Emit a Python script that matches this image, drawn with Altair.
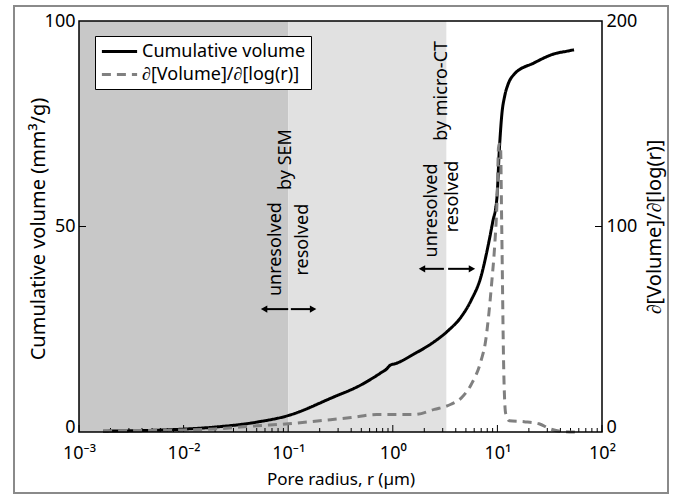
import altair as alt
import pandas as pd

# ---------------- data ----------------
series_names = ["Cumulative volume", "∂[Volume]/∂[log(r)]"]

cum_r = [0.0017, 0.005, 0.01, 0.02, 0.05, 0.1, 0.26, 0.5, 0.77, 0.87, 0.95, 1.05,
         1.6, 2.5, 3.36, 4.5, 5.6, 7.0, 8.1, 9.0, 9.9, 10.4, 11.0, 11.8, 12.6, 14.4,
         22.4, 34.8, 47.3, 54.0]
cum_v = [0.2, 0.4, 0.7, 1.2, 2.4, 4.0, 8.3, 11.5, 14.4, 15.3, 16.3, 16.6,
         19.0, 22.0, 24.6, 28.0, 32.0, 38.0, 45.0, 51.0, 57.0, 68.0, 77.0, 82.0, 84.5,
         87.0, 89.8, 92.0, 92.7, 93.0]

der_r = [0.0017, 0.005, 0.01, 0.02, 0.05, 0.1, 0.2, 0.4, 0.7, 1.0, 1.6, 2.5, 3.6,
         4.5, 5.6, 7.0, 7.7, 8.3, 8.8, 9.4, 9.9, 10.3, 10.7, 11.0, 11.5, 12.0, 13.0,
         18.0, 25.0, 32.0, 40.0, 55.0]
der_v = [0.5, 0.8, 1.0, 1.5, 3.0, 4.0, 5.5, 7.0, 8.5, 8.5, 8.5, 11.0, 13.5,
         16.5, 23.0, 35.0, 44.0, 58.0, 72.0, 90.0, 111.0, 140.0, 140.0, 100.0, 30.0,
         9.0, 5.5, 5.0, 4.0, 1.5, 0.3, 0.0]

region_from = [0.001, 0.1]
region_to = [0.1, 3.25]
region_fill = ["#c8c8c8", "#e1e1e1"]

ann_text = ["unresolved", "resolved", "by SEM", "unresolved", "resolved", "by micro-CT"]
ann_r = [0.0765, 0.1385, 0.0953, 2.37, 3.76, 2.95]
ann_v = [44.5, 46.8, 66.3, 53.9, 57.3, 83.0]

arrow_from = [0.1, 0.106, 3.08, 3.38]
arrow_to = [0.0588, 0.173, 1.90, 5.71]
arrow_v = [29.9, 29.9, 39.7, 39.7]
arrow_dir = ["left", "right", "left", "right"]

x_major = [0.001, 0.01, 0.1, 1, 10, 100]
x_minor = [m * d for d in [0.001, 0.01, 0.1, 1, 10] for m in range(2, 10)]

# ---------------- styling ----------------
FONT = "Noto Sans"
FS = 18
W, H = 523, 411

xscale = alt.Scale(type="log", domain=[1e-3, 1e2], nice=False)
x_axis = alt.Axis(
    values=x_major,
    labelExpr=("datum.value < 0.005 ? '10⁻³' : datum.value < 0.05 ? '10⁻²' : "
               "datum.value < 0.5 ? '10⁻¹' : datum.value < 5 ? '10⁰' : "
               "datum.value < 50 ? '10¹' : '10²'"),
    title="Pore radius, r (µm)", titleFontSize=17,
    titleX=W / 2, titleY=47, titleAlign="center", titleBaseline="middle",
    labelPadding=12, labelFlush=False,
)
y_label_base = {"expr": "datum.value == 0 ? 'alphabetic' : 'middle'"}
yl_scale = alt.Scale(domain=[0, 100], nice=False)
yr_scale = alt.Scale(domain=[0, 200], nice=False)
yl_axis = alt.Axis(values=[0, 50, 100], title="Cumulative volume (mm³/g)",
                   titleFontSize=20, labelBaseline=y_label_base,
                   titleAngle=270, titleX=-41, titleY=H / 2 + 2, titleAlign="center",
                   titleBaseline="middle", labelPadding=4)
yr_axis = alt.Axis(values=[0, 100, 200], orient="right",
                   title="∂[Volume]/∂[log(r)]", titleFontSize=20,
                   labelBaseline=y_label_base, titleAngle=270, titleX=52,
                   titleY=H / 2, titleAlign="center", titleBaseline="middle",
                   labelPadding=4)

color_scale = alt.Scale(domain=series_names, range=["black", "#808080"])
dash_scale = alt.Scale(domain=series_names, range=[[1, 0], [9, 6]])
legend = alt.Legend(title=None, orient="none", legendX=16, legendY=15,
                    symbolType="M-2,0L2,0", symbolSize=310, symbolStrokeWidth=3,
                    symbolOffset=9, labelOffset=12,
                    labelFont=FONT, labelFontSize=FS, labelColor="black",
                    labelLimit=400, strokeColor="black", fillColor="white",
                    padding=5, rowPadding=3)

# ---------------- data frames ----------------
cum_df = pd.DataFrame({"r": cum_r, "v": cum_v, "series": series_names[0]})
der_df = pd.DataFrame({"r": der_r, "v": der_v, "series": series_names[1]})
reg_df = pd.DataFrame({"r0": region_from, "r1": region_to, "fill": region_fill})
ann_df = pd.DataFrame({"r": ann_r, "v": ann_v, "t": ann_text})
arr_df = pd.DataFrame({"r0": arrow_from, "r1": arrow_to, "v": arrow_v, "dir": arrow_dir})
maj_df = pd.DataFrame({"r": x_major})
min_df = pd.DataFrame({"r": x_minor})
one_df = pd.DataFrame({"a": [0]})

# ---------------- left group ----------------
regions = alt.Chart(reg_df).mark_rect().encode(
    x=alt.X("r0:Q", scale=xscale, axis=x_axis),
    x2="r1:Q",
    y=alt.value(0), y2=alt.value(H),
    fill=alt.Fill("fill:N", scale=None),
)

major_ticks = alt.Chart(maj_df).mark_rule(color="black", strokeWidth=1).encode(
    x=alt.X("r:Q", scale=xscale, axis=x_axis), y=alt.value(H), y2=alt.value(H - 7))
minor_ticks = alt.Chart(min_df).mark_rule(color="black", strokeWidth=1).encode(
    x=alt.X("r:Q", scale=xscale, axis=x_axis), y=alt.value(H), y2=alt.value(H - 4))

cum_line = alt.Chart(cum_df).mark_line(strokeWidth=3, interpolate="monotone").encode(
    x=alt.X("r:Q", scale=xscale, axis=x_axis),
    y=alt.Y("v:Q", scale=yl_scale, axis=yl_axis),
    color=alt.Color("series:N", scale=color_scale, legend=legend),
    strokeDash=alt.StrokeDash("series:N", scale=dash_scale, legend=legend),
)

texts = alt.Chart(ann_df).mark_text(angle=270, font=FONT, fontSize=FS, color="black",
                                    align="center", baseline="middle").encode(
    x=alt.X("r:Q", scale=xscale, axis=x_axis),
    y=alt.Y("v:Q", scale=yl_scale, axis=yl_axis),
    text="t:N",
)

arrow_lines = alt.Chart(arr_df).mark_rule(color="black", strokeWidth=2).encode(
    x=alt.X("r0:Q", scale=xscale, axis=x_axis), x2="r1:Q",
    y=alt.Y("v:Q", scale=yl_scale, axis=yl_axis),
)
arrow_heads = alt.Chart(arr_df).mark_point(filled=True, color="black", size=55,
                                           opacity=1).encode(
    x=alt.X("r1:Q", scale=xscale, axis=x_axis),
    y=alt.Y("v:Q", scale=yl_scale, axis=yl_axis),
    shape=alt.Shape("dir:N", scale=alt.Scale(domain=["left", "right"],
                                             range=["triangle-left", "triangle-right"]),
                    legend=None),
)

left_tick = alt.Chart(pd.DataFrame({"v": [50]})).mark_rule(color="black").encode(
    y=alt.Y("v:Q", scale=yl_scale, axis=yl_axis), x=alt.value(0), x2=alt.value(7))

frame = alt.Chart(one_df).mark_rect(fill=None, stroke="#8a8a8a", strokeWidth=2).encode(
    x=alt.value(-65), x2=alt.value(589), y=alt.value(-15), y2=alt.value(472))
box = alt.Chart(one_df).mark_rect(fill=None, stroke="black", strokeWidth=1.5).encode(
    x=alt.value(0), x2=alt.value(W), y=alt.value(0), y2=alt.value(H))

left = alt.layer(regions, minor_ticks, major_ticks, texts, arrow_lines, arrow_heads,
                 left_tick, cum_line)

# ---------------- right group ----------------
der_line = alt.Chart(der_df).mark_line(strokeWidth=3, interpolate="monotone").encode(
    x=alt.X("r:Q", scale=xscale, axis=x_axis),
    y=alt.Y("v:Q", scale=yr_scale, axis=yr_axis),
    color=alt.Color("series:N", scale=color_scale, legend=legend),
    strokeDash=alt.StrokeDash("series:N", scale=dash_scale, legend=legend),
)
right_tick = alt.Chart(pd.DataFrame({"v": [100]})).mark_rule(color="black").encode(
    y=alt.Y("v:Q", scale=yr_scale, axis=yr_axis), x=alt.value(W - 7), x2=alt.value(W))

right = alt.layer(der_line, right_tick)

chart = alt.layer(left, right, box, frame).resolve_scale(y="independent").properties(
    width=W, height=H,
    padding={"left": 13, "top": 5, "right": 0, "bottom": 0},
    background="white",
).configure_view(stroke=None).configure_axis(
    domain=False, ticks=False, grid=False,
    labelFont=FONT, labelFontSize=FS, labelColor="black",
    titleFont=FONT, titleColor="black", titleFontWeight="normal",
)

chart.save("out.html", embed_options={"renderer": "svg", "actions": False})
